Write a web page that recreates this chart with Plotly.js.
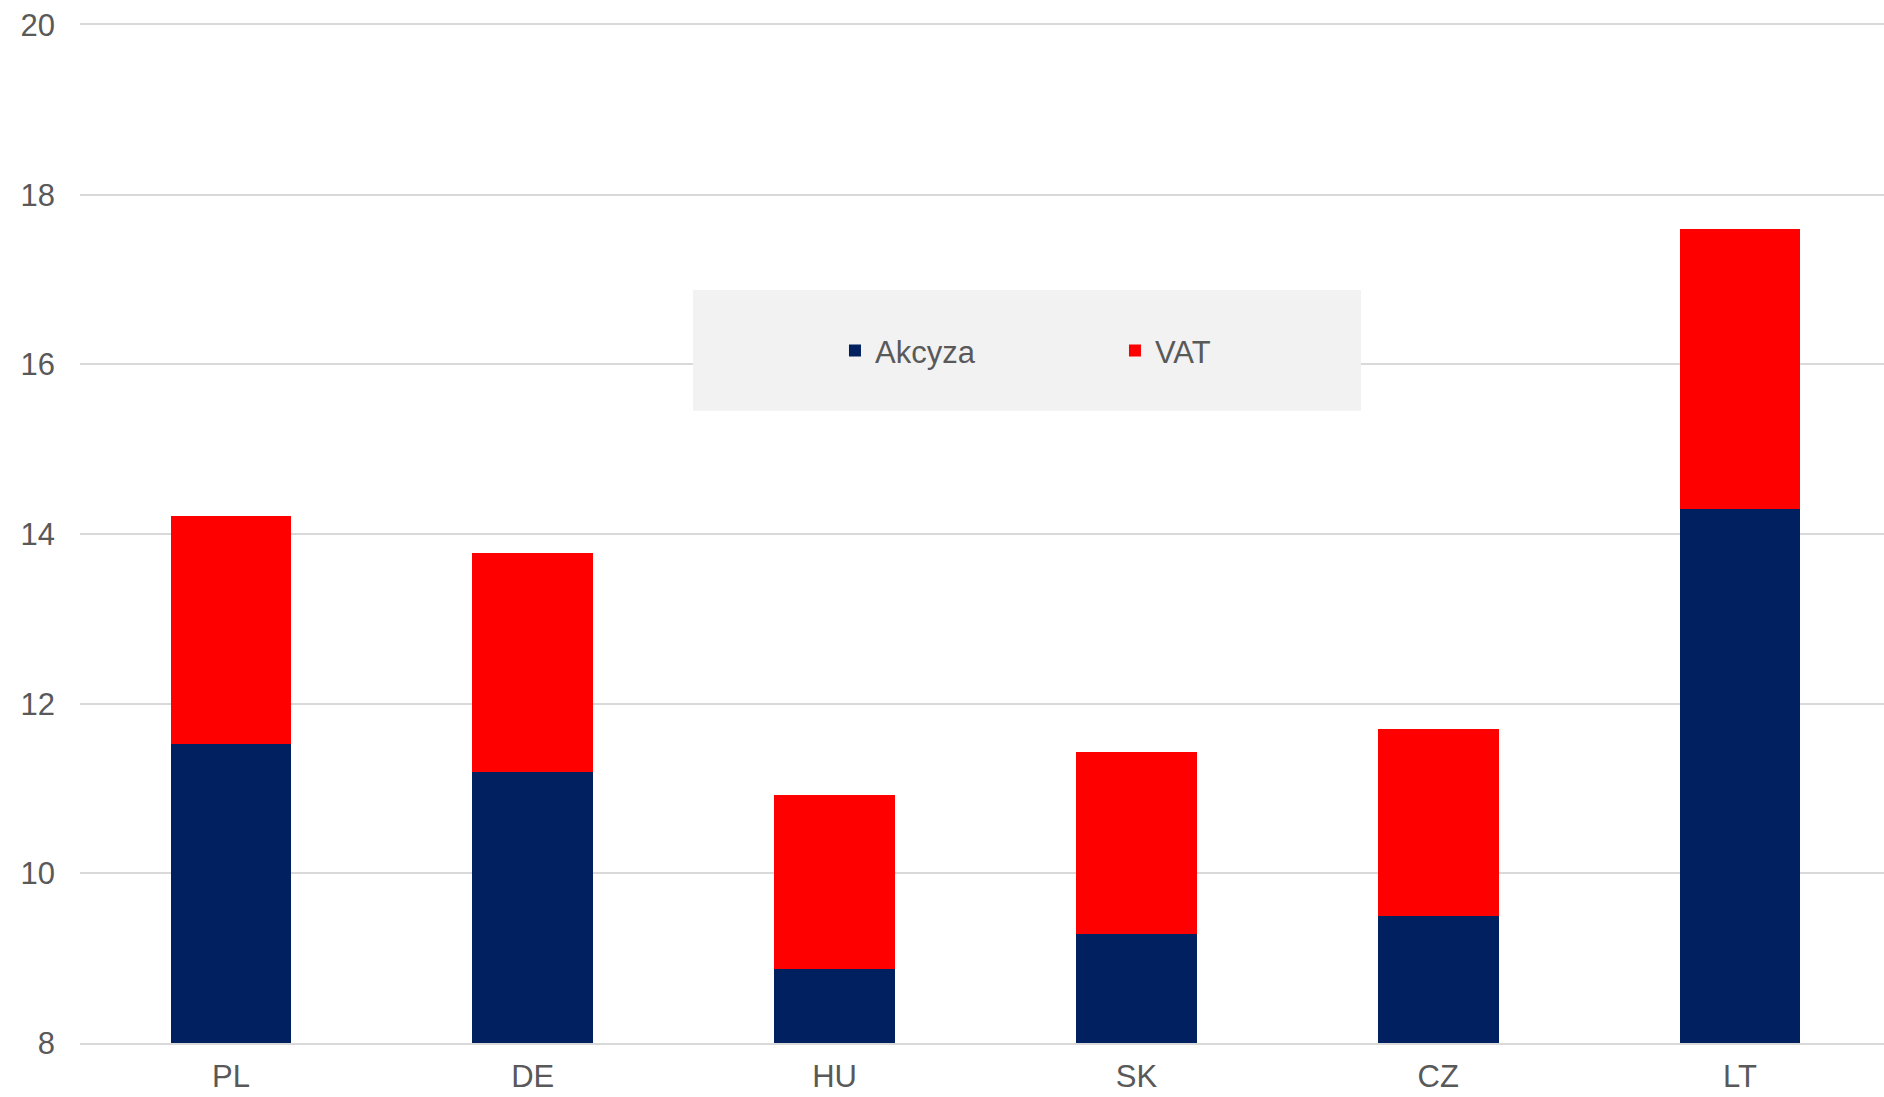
<!DOCTYPE html>
<html>
<head>
<meta charset="utf-8">
<script src="https://cdn.plot.ly/plotly-3.0.1.min.js"></script>
<style>
  html, body { margin: 0; padding: 0; background: #ffffff; }
  #chart { width: 1884px; height: 1097px; }
</style>
</head>
<body>
<div id="chart"></div>
<script>
const categories = ['PL', 'DE', 'HU', 'SK', 'CZ', 'LT'];
const akcyza = [11.53, 11.19, 8.87, 9.28, 9.50, 14.30];
const vat = [2.68, 2.59, 2.05, 2.15, 2.20, 3.30];
const seriesNames = ['Akcyza', 'VAT'];
const yTicks = [8, 10, 12, 14, 16, 18, 20];

const FONT = 'Liberation Sans, Arial, sans-serif';
const TXT = '#595959';

const traces = [
  { type: 'bar', name: seriesNames[0], x: categories, y: akcyza,
    marker: { color: '#002060' }, hoverinfo: 'x+y+name' },
  { type: 'bar', name: seriesNames[1], x: categories, y: vat,
    marker: { color: '#ff0000' }, hoverinfo: 'x+y+name' }
];

const layout = {
  width: 1884, height: 1097,
  margin: { l: 80, r: 0, t: 25, b: 54 },
  paper_bgcolor: '#ffffff', plot_bgcolor: '#ffffff',
  barmode: 'stack',
  bargap: 0.6,
  font: { family: FONT, size: 31, color: TXT },
  showlegend: true,
  legend: {
    orientation: 'h',
    traceorder: 'normal',
    x: 0.4185, xanchor: 'left',
    y: 0.680, yanchor: 'middle',
    bgcolor: 'rgba(0,0,0,0)',
    borderwidth: 0,
    font: { family: FONT, size: 31, color: TXT },
    entrywidth: 235,
    itemclick: false, itemdoubleclick: false
  },
  shapes: [
    { type: 'rect', xref: 'paper', yref: 'paper', layer: 'above',
      x0: 0.3398, x1: 0.7101, y0: 0.621, y1: 0.7398,
      fillcolor: '#f2f2f2', line: { width: 0 } }
  ],
  xaxis: {
    type: 'category',
    range: [-0.5, 5.477],
    showgrid: false,
    showline: true, mirror: true, linecolor: '#d9d9d9', linewidth: 1.5,
    ticks: '',
    ticklabelstandoff: 5,
    tickfont: { family: FONT, size: 31, color: TXT },
    fixedrange: true
  },
  yaxis: {
    range: [8, 20],
    tickvals: yTicks,
    ticktext: yTicks.map(String),
    showgrid: true, gridcolor: '#d9d9d9', gridwidth: 1.5,
    zeroline: false,
    showline: false,
    ticks: '',
    ticklabelstandoff: 24,
    tickfont: { family: FONT, size: 31, color: TXT },
    fixedrange: true
  }
};

Plotly.newPlot('chart', traces, layout, { displayModeBar: false, staticPlot: false });
</script>
</body>
</html>
